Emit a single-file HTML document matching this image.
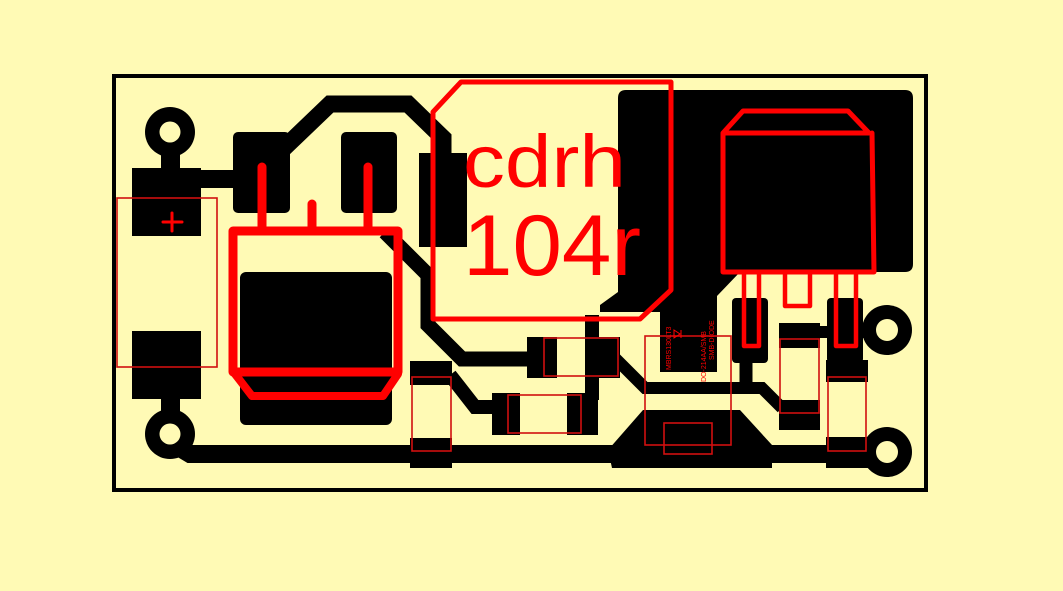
<!DOCTYPE html>
<html><head><meta charset="utf-8"><style>
html,body{margin:0;padding:0;background:#fffab5;}
svg{display:block;}
</style></head><body>
<svg width="1063" height="591" viewBox="0 0 1063 591" xmlns="http://www.w3.org/2000/svg">
<rect width="1063" height="591" fill="#fffab5"/>
<!-- board outline -->
<rect x="114" y="76" width="812" height="414" fill="none" stroke="#000" stroke-width="4"/>

<g fill="#000" stroke="none">
  <!-- left rings -->
  <circle cx="170" cy="132" r="25"/>
  <rect x="161" y="145" width="19" height="25"/>
  <rect x="132" y="168" width="69" height="68"/>
  <rect x="132" y="331" width="69" height="68"/>
  <rect x="161" y="397" width="19" height="20"/>
  <circle cx="170" cy="434" r="25"/>
  <!-- right rings -->
  <circle cx="887" cy="330" r="25"/>
  <circle cx="887" cy="452" r="25"/>
  <!-- cap pads -->
  <rect x="233" y="132" width="57" height="81" rx="5"/>
  <rect x="341" y="132" width="56" height="81" rx="5"/>
  <rect x="240" y="272" width="152" height="153" rx="6"/>
  <!-- inductor left pad -->
  <rect x="419" y="153" width="48" height="94"/>
  <!-- big right region -->
  <path d="M626,90 H905 Q913,90 913,98 V264 Q913,272 905,272 H740 L717,296 V372 H660 V312 H600 V305 L618,292 V98 Q618,90 626,90 Z"/>
  <!-- R1 pads -->
  <rect x="527" y="337" width="30" height="41"/>
  <rect x="598" y="337" width="22" height="41"/>
  <!-- R2 pads -->
  <rect x="492" y="393" width="28" height="42"/>
  <rect x="567" y="393" width="31" height="42"/>
  <!-- C vertical pads -->
  <rect x="410" y="361" width="42" height="24"/>
  <rect x="410" y="438" width="42" height="30"/>
  <!-- bottom middle shape -->
  <path d="M608,450 L643,410 H740 L772,445 V468 H612 Z"/>
  <!-- regulator pads -->
  <rect x="732" y="298" width="36" height="65" rx="4"/>
  <rect x="827" y="298" width="36" height="65" rx="4"/>
  <!-- C2 pads -->
  <rect x="779" y="323" width="41" height="25"/>
  <rect x="779" y="400" width="41" height="30"/>
  <!-- C3 pads -->
  <rect x="826" y="360" width="42" height="22"/>
  <rect x="826" y="437" width="42" height="31"/>
</g>
<!-- traces -->
<g fill="none" stroke="#000" stroke-linejoin="miter" stroke-linecap="butt">
  <path d="M200,179 H236" stroke-width="18"/>
  <path d="M282,150 L330,104 H408 L443,138 V165" stroke-width="17"/>
  <path d="M385,232 L428,275 V325 L462,359 H530" stroke-width="15"/>
  <path d="M450,375 L475,407 H495" stroke-width="14"/>
  <path d="M592,315 V400" stroke-width="14"/>
  <path d="M615,358 L645,388 H762 L782,408" stroke-width="12"/>
  <path d="M746,360 V388" stroke-width="13"/>
  <path d="M815,332 H870" stroke-width="12"/>
  <path d="M175,445 L190,454 H887" stroke-width="18"/>
</g>
<!-- holes -->
<g fill="#fffab5">
  <circle cx="170" cy="132" r="10.5"/>
  <circle cx="170" cy="434" r="10.5"/>
  <circle cx="887" cy="330" r="11"/>
  <circle cx="887" cy="452" r="11"/>
</g>

<!-- thin red outlines -->
<g fill="none" stroke="#d01010" stroke-width="1.6">
  <rect x="117" y="198" width="100" height="169"/>
  <rect x="412" y="377" width="39" height="74"/>
  <rect x="544" y="338" width="74" height="38"/>
  <rect x="508" y="395" width="73" height="38"/>
  <rect x="645" y="336" width="86" height="109"/>
  <rect x="664" y="423" width="48" height="31"/>
  <rect x="780" y="339" width="39" height="74"/>
  <rect x="828" y="377" width="38" height="74"/>
</g>
<!-- thick red silk -->
<g fill="none" stroke="#ff0000" stroke-linejoin="round" stroke-linecap="round">
  <path d="M163,222 H182 M172,213 V231" stroke-width="3"/>
  <rect x="233" y="231" width="165" height="141" stroke-width="9"/>
  <path d="M235,374 L252,396 H383 L398,374" stroke-width="8"/>
  <path d="M262,167 V228 M312,204 V228 M368,167 V228" stroke-width="9"/>
  <path d="M433,112 L461,82 H671 V290 L640,319 H433 Z" stroke-width="5"/>
  <path d="M723,133 L743,111 H848 L869,133 Z M723,133 V272 H874 L872,133" stroke-width="5"/>
  <path d="M744,273 V346 H759 V273 M785,273 V306 H810 V273 M836,273 V346 H856 V273" stroke-width="4.5"/>
</g>
<g fill="#ff0000" font-family="Liberation Sans, sans-serif">
  <text x="463" y="187" font-size="74" textLength="163" lengthAdjust="spacingAndGlyphs">cdrh</text>
  <text x="463" y="275" font-size="86" textLength="178" lengthAdjust="spacingAndGlyphs">104r</text>
  <text font-size="7" transform="translate(671,370) rotate(-90)">MBRS130LT3</text>
  <text font-size="7" transform="translate(706,382) rotate(-90)">DO-214AA/SMB</text>
  <text font-size="7" transform="translate(714,360) rotate(-90)">SMB-DIODE</text>
  <path d="M674,330 l6,4 l-6,4 z M681,330 v8" stroke="#ff0000" stroke-width="1" fill="none"/>
</g>
</svg>
</body></html>
